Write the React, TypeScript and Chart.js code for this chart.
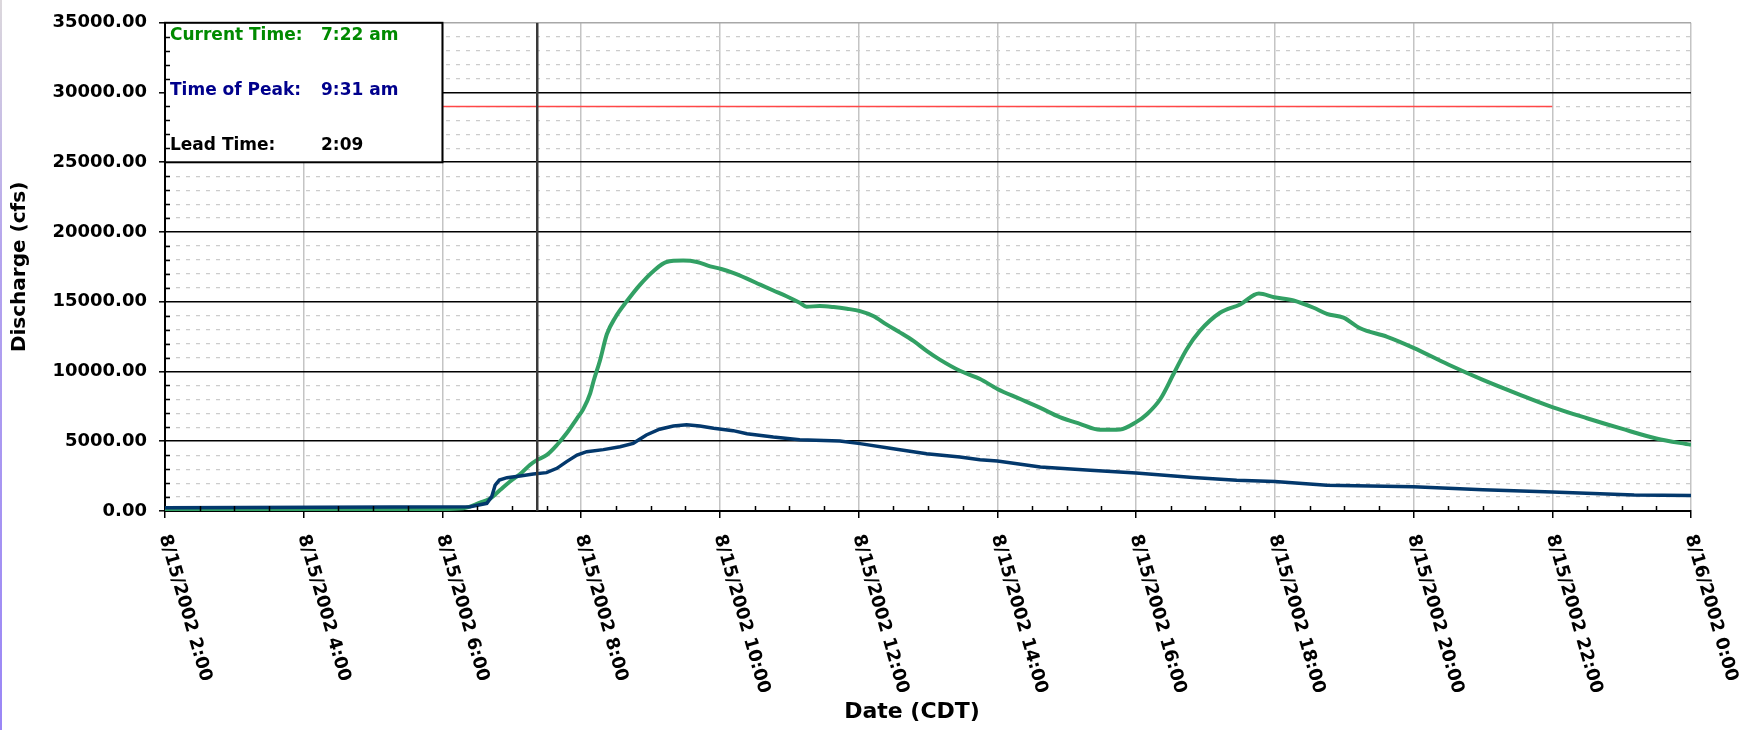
import { useEffect, useRef } from 'react';
import { Chart, registerables } from 'chart.js';

Chart.register(...registerables);

// ---------- data (hours since 8/15/2002 0:00, discharge in cfs) ----------
const FORECAST_TIMES = [
  2.0, 3.0, 4.0, 5.0, 6.0, 6.3, 6.54, 6.69, 6.83, 6.97, 7.12, 7.26, 7.36, 7.5, 7.65, 7.79, 7.94, 8.03,
  8.13, 8.18, 8.27, 8.37, 8.49, 8.66, 8.85, 9.04, 9.23, 9.47, 9.67, 9.86, 10.02, 10.19, 10.39, 10.58,
  10.77, 10.96, 11.15, 11.25, 11.44, 11.64, 11.83, 12.02, 12.21, 12.4, 12.6, 12.79, 12.98, 13.17,
  13.46, 13.75, 14.0, 14.33, 14.62, 14.9, 15.19, 15.48, 15.77, 16.0, 16.16, 16.35, 16.54, 16.73,
  16.92, 17.21, 17.5, 17.77, 17.99, 18.27, 18.56, 18.75, 18.99, 19.23, 19.62, 20.0, 20.5, 21.0,
  21.5, 22.0, 22.5, 23.0, 23.5, 24.0,
];
const FORECAST_VALUES = [
  150, 150, 150, 150, 150, 200, 600, 900, 1500, 2100, 2650, 3300, 3650, 4000, 4730, 5570, 6640, 7300,
  8440, 9340, 10770, 12670, 13860, 15050, 16230, 17190, 17850, 17950, 17850, 17540, 17350, 17070, 16660, 16230,
  15810, 15400, 14930, 14650, 14690, 14620, 14500, 14330, 13980, 13380, 12790, 12190, 11480, 10850,
  10050, 9460, 8750, 8030, 7390, 6730, 6250, 5820, 5850, 6370, 6960, 8030, 9820, 11600,
  12910, 14210, 14810, 15590, 15330, 15090, 14570, 14140, 13860, 13100, 12490, 11700, 10500, 9400,
  8400, 7450, 6650, 5900, 5200, 4740,
];

const OBSERVED_TIMES = [
  2.0, 6.4, 6.64, 6.71, 6.76, 6.82, 6.93, 7.12, 7.31, 7.5, 7.65, 7.79, 7.94, 8.08, 8.32, 8.56, 8.75,
  8.94, 9.13, 9.33, 9.52, 9.71, 9.91, 10.19, 10.39, 10.77, 11.15, 11.73, 12.02, 12.5, 12.98, 13.46,
  13.75, 14.0, 14.62, 15.34, 16.0, 16.82, 17.45, 18.0, 18.75, 20.0, 21.0, 22.0, 23.18, 24.0,
];
const OBSERVED_VALUES = [
  240, 310, 550, 1030, 1860, 2220, 2390, 2510, 2650, 2750, 3060, 3540, 4010, 4250, 4400, 4610, 4850,
  5450, 5860, 6090, 6190, 6090, 5930, 5760, 5540, 5300, 5110, 5020, 4830, 4470, 4110, 3870,
  3680, 3590, 3160, 2920, 2730, 2400, 2210, 2110, 1850, 1730, 1520, 1370, 1140, 1110,
];

const FLOOD_TIMES = [2.0, 22.0];
const FLOOD_VALUES = [29000, 29000];

const CURRENT_TIME = 7 + 22 / 60;

const X_TICK_VALUES = [2, 4, 6, 8, 10, 12, 14, 16, 18, 20, 22, 24];
const X_TICK_LABELS = [
  '8/15/2002 2:00', '8/15/2002 4:00', '8/15/2002 6:00', '8/15/2002 8:00', '8/15/2002 10:00',
  '8/15/2002 12:00', '8/15/2002 14:00', '8/15/2002 16:00', '8/15/2002 18:00', '8/15/2002 20:00',
  '8/15/2002 22:00', '8/16/2002 0:00',
];
const Y_TICK_LABELS = ['0.00', '5000.00', '10000.00', '15000.00', '20000.00', '25000.00', '30000.00', '35000.00'];

const X_TITLE = 'Date (CDT)';
const Y_TITLE = 'Discharge (cfs)';
const BOX_LABELS = ['Current Time:', 'Time of Peak:', 'Lead Time:'];
const BOX_VALUES = ['7:22 am', '9:31 am', '2:09'];

// ---------- styles ----------
const FONT = '"DejaVu Sans", sans-serif';
const GREEN = '#32a064';
const NAVY = '#03386c';
const RED = '#ff4848';
const BOX_COLORS = ['#008a00', '#00008c', '#000000'];

const zip = (xs: number[], ys: number[]) => xs.map((x, i) => ({ x, y: ys[i] }));

const overlayPlugin = {
  id: 'overlay',
  afterDatasetsDraw(chart: any) {
    const { ctx, scales } = chart;
    const xs = scales.x;
    const ys = scales.y;
    // info box (spans 2:00-6:00, 25000-35000)
    const l = xs.getPixelForValue(2);
    const r = xs.getPixelForValue(6);
    const t = ys.getPixelForValue(35000);
    const b = ys.getPixelForValue(25000);
    ctx.save();
    ctx.fillStyle = '#ffffff';
    ctx.fillRect(l, t, r - l, b - t);
    ctx.strokeStyle = '#000';
    ctx.lineWidth = 2;
    ctx.strokeRect(l, t, r - l, b - t);
    ctx.font = `bold 17px ${FONT}`;
    ctx.textBaseline = 'middle';
    ctx.textAlign = 'left';
    const rowOffsets = [12.5, 67.5, 122.5];
    BOX_LABELS.forEach((lab, i) => {
      ctx.fillStyle = BOX_COLORS[i];
      ctx.fillText(lab, l + 5, t + rowOffsets[i]);
      ctx.fillText(BOX_VALUES[i], l + 156, t + rowOffsets[i]);
    });
    ctx.restore();
  },
  afterDraw(chart: any) {
    const { ctx, scales } = chart;
    const xs = scales.x;
    const ys = scales.y;
    ctx.save();
    // minor ticks (inward)
    ctx.strokeStyle = '#000';
    ctx.lineWidth = 1.5;
    ctx.beginPath();
    for (let v = 2.5; v < 24; v += 0.5) {
      if (Math.abs(v % 2) < 1e-9) continue;
      const px = Math.round(xs.getPixelForValue(v)) + 0.5;
      ctx.moveTo(px, ys.bottom);
      ctx.lineTo(px, ys.bottom - 5);
    }
    for (let v = 1000; v < 35000; v += 1000) {
      if (v % 5000 === 0) continue;
      const py = Math.round(ys.getPixelForValue(v)) + 0.5;
      ctx.moveTo(xs.left, py);
      ctx.lineTo(xs.left + 5, py);
    }
    ctx.stroke();
    // rotated x tick labels
    ctx.font = `bold 18px ${FONT}`;
    ctx.fillStyle = '#000';
    ctx.textAlign = 'left';
    ctx.textBaseline = 'middle';
    X_TICK_VALUES.forEach((v, i) => {
      const px = xs.getPixelForValue(v);
      ctx.save();
      ctx.translate(px - 1, xs.top + 24);
      ctx.rotate((74 * Math.PI) / 180);
      ctx.fillText(X_TICK_LABELS[i], 0, 0);
      ctx.restore();
    });
    // x axis title
    ctx.font = `bold 22px ${FONT}`;
    ctx.textAlign = 'center';
    ctx.textBaseline = 'middle';
    ctx.fillText(X_TITLE, (xs.left + xs.right) / 2 - 16, 712);
    ctx.restore();
  },
};

export default function App() {
  const ref = useRef<HTMLCanvasElement | null>(null);

  useEffect(() => {
    if (!ref.current) return;
    const chart = new Chart(ref.current, {
      type: 'line',
      data: {
        datasets: [
          {
            label: 'Current time',
            data: [{ x: CURRENT_TIME, y: 0 }, { x: CURRENT_TIME, y: 35000 }],
            borderColor: '#3a3a3a',
            borderWidth: 2.5,
            pointRadius: 0,
            order: 0,
          },
          {
            label: 'Observed',
            data: zip(OBSERVED_TIMES, OBSERVED_VALUES),
            borderColor: NAVY,
            borderWidth: 3.5,
            pointRadius: 0,
            tension: 0,
            order: 1,
          },
          {
            label: 'Forecast',
            data: zip(FORECAST_TIMES, FORECAST_VALUES),
            borderColor: GREEN,
            borderWidth: 4,
            pointRadius: 0,
            cubicInterpolationMode: 'monotone',
            order: 2,
          },
          {
            label: 'Flood stage',
            data: zip(FLOOD_TIMES, FLOOD_VALUES),
            borderColor: RED,
            borderWidth: 1.5,
            pointRadius: 0,
            order: 3,
          },
        ],
      },
      options: {
        responsive: false,
        animation: false,
        events: [],
        layout: { padding: { left: 0, right: 53, top: 20, bottom: 0 } },
        plugins: { legend: { display: false }, tooltip: { enabled: false } },
        scales: {
          x: {
            type: 'linear',
            min: 2,
            max: 24,
            afterBuildTicks: (s: any) => {
              s.ticks = X_TICK_VALUES.map((v) => ({ value: v }));
            },
            afterFit: (s: any) => {
              s.height = 219;
            },
            ticks: { display: false, autoSkip: false },
            grid: { color: '#c4c4c4', lineWidth: 1.5, tickColor: '#000', tickLength: 7, tickWidth: 1.5 },
            border: { display: true, color: '#000', width: 2 },
            title: { display: false },
          },
          y: {
            type: 'linear',
            min: 0,
            max: 35000,
            afterBuildTicks: (s: any) => {
              const t = [];
              for (let v = 0; v <= 35000; v += 1000) t.push({ value: v });
              s.ticks = t;
            },
            afterFit: (s: any) => {
              s.width = 165;
            },
            ticks: {
              autoSkip: false,
              padding: 12,
              color: '#000',
              font: { family: FONT, size: 18, weight: 'bold' },
              callback: (v: any) => (Number(v) % 5000 === 0 ? Y_TICK_LABELS[Number(v) / 5000] : ''),
            },
            grid: {
              color: (c: any) => {
                const v = c.tick ? c.tick.value : 0;
                if (v === 35000) return '#a8a8a8';
                return v % 5000 === 0 ? '#000' : '#cccccc';
              },
              lineWidth: (c: any) => (c.tick && c.tick.value % 5000 === 0 ? 1.6 : 1.2),
              tickColor: (c: any) => (c.tick && c.tick.value % 5000 === 0 ? '#000' : 'rgba(0,0,0,0)'),
              tickLength: 6,
              tickWidth: 1.5,
            },
            border: {
              display: true,
              color: '#000',
              width: 2,
              dash: (c: any) => (c.tick && c.tick.value % 5000 !== 0 ? [4, 6] : []),
            },
            title: {
              display: true,
              text: Y_TITLE,
              color: '#000',
              font: { family: FONT, size: 20, weight: 'bold' },
              padding: { top: 8, bottom: 0 },
            },
          },
        },
      },
      plugins: [overlayPlugin],
    } as any);
    return () => chart.destroy();
  }, []);

  return (
    <div style={{ position: 'fixed', left: 0, top: 0, width: 1744, height: 730, background: '#fff' }}>
      <canvas ref={ref} width={1744} height={730} style={{ display: 'block' }} />
      <div
        style={{
          position: 'absolute',
          left: 0,
          top: 0,
          width: 2,
          height: 730,
          background: 'linear-gradient(#dcd8dc, #b4a4ee 35%, #9a86f6)',
        }}
      />
    </div>
  );
}
